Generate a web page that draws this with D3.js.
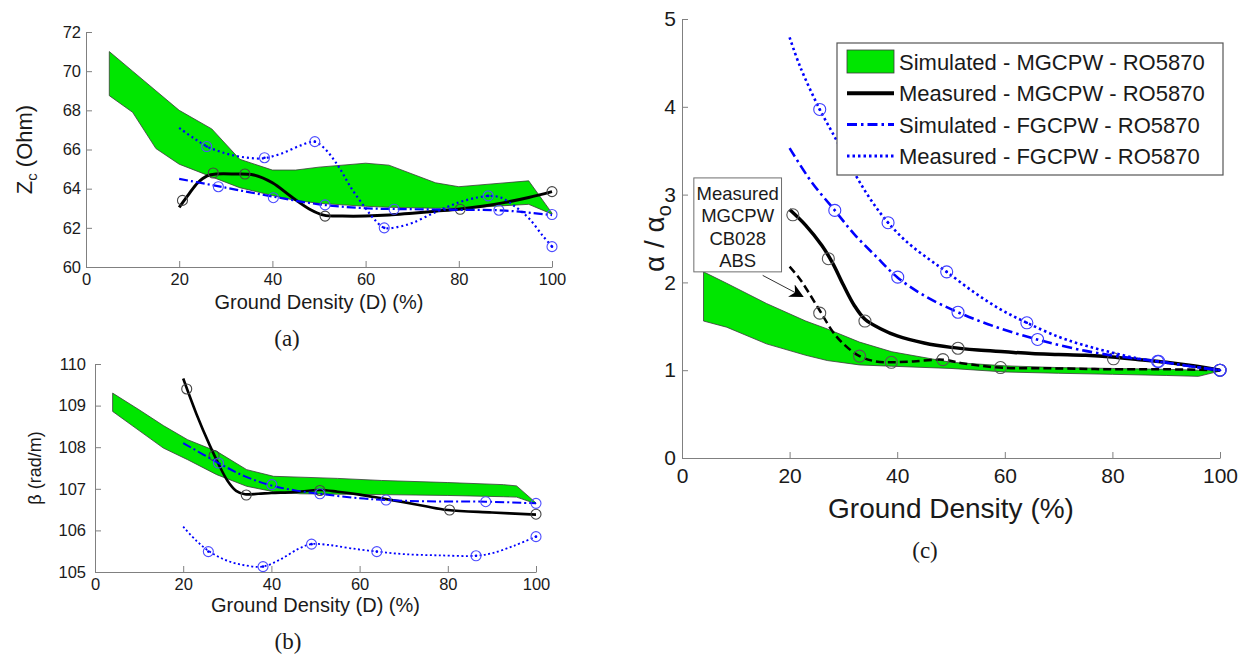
<!DOCTYPE html>
<html>
<head>
<meta charset="utf-8">
<script src="https://cdn.jsdelivr.net/npm/d3@7"></script>
<style>
body { margin: 0; background: #fff; }
text { font-family: "Liberation Sans", Arial, sans-serif; fill: #1a1a1a; }
.axis path, .axis line { stroke: #808080; }
.cap { font-family: "Liberation Serif", "DejaVu Serif", serif; }
</style>
</head>
<body>
<svg id="fig" width="1246" height="655"></svg>
<script>
// ---- data ----
var densityTicks = [0, 20, 40, 60, 80, 100];

// (a) characteristic impedance
var zcTicks = [60, 62, 64, 66, 68, 70, 72];
var zcBandX  = [5, 10, 15, 20, 27, 33, 40, 45, 50, 60, 65, 75, 80, 95, 100];
var zcBandHi = [71.0, 70.0, 69.0, 68.0, 67.05, 65.5, 64.95, 64.95, 65.1, 65.3, 65.2, 64.3, 64.1, 64.4, 62.75];
var zcBandLo = [68.75, 67.9, 66.05, 65.25, 64.6, 64.05, 63.65, 63.4, 63.25, 63.1, 63.05, 63.0, 63.0, 63.2, 62.7];
var zcMeasMgX = [20, 22, 24, 26, 28, 32, 36, 40, 44, 48, 51, 55, 60, 65, 70, 75, 80, 85, 90, 95, 100];
var zcMeasMgY = [63.05, 63.7, 64.3, 64.65, 64.75, 64.75, 64.7, 64.3, 63.6, 62.95, 62.65, 62.6, 62.6, 62.65, 62.75, 62.85, 62.95, 63.1, 63.3, 63.55, 63.85];
var zcMeasMgPtX = [20.7, 27.3, 34.1, 51.3, 80.3, 100];
var zcMeasMgPtY = [63.4, 64.8, 64.75, 62.6, 62.95, 63.85];
var zcSimFgX = [20, 30, 40, 50, 60, 70, 80, 90, 100];
var zcSimFgY = [64.5, 64.05, 63.6, 63.2, 63.0, 62.95, 62.92, 62.88, 62.65];
var zcSimFgPtX = [28.4, 40.2, 51.3, 66.1, 88.6, 100];
var zcSimFgPtY = [64.1, 63.54, 63.17, 62.95, 62.9, 62.68];
var zcMeasFgX = [20, 23, 26, 30, 34, 38, 42, 46, 49, 51, 54, 57, 60, 62, 64, 67, 70, 75, 80, 84, 86.5, 89, 92, 95, 98, 100];
var zcMeasFgY = [67.1, 66.6, 66.15, 65.8, 65.6, 65.55, 65.8, 66.2, 66.4, 66.1, 65.2, 64.0, 63.0, 62.4, 62.0, 62.05, 62.25, 62.8, 63.3, 63.55, 63.63, 63.55, 63.1, 62.5, 61.6, 61.05];
var zcMeasFgPtX = [25.9, 38.3, 49.1, 64, 86.3, 100];
var zcMeasFgPtY = [66.15, 65.58, 66.4, 62.0, 63.63, 61.04];

// (b) propagation constant
var betaTicks = [105, 106, 107, 108, 109, 110];
var betaBandX  = [4, 10, 15.5, 21, 27.6, 34.4, 40.5, 46.5, 55, 65, 80, 92.6, 95.6, 100];
var betaBandHi = [109.3, 108.9, 108.52, 108.18, 107.9, 107.46, 107.3, 107.28, 107.25, 107.2, 107.15, 107.1, 107.07, 106.66];
var betaBandLo = [108.86, 108.4, 107.98, 107.7, 107.34, 107.06, 106.93, 106.88, 106.87, 106.86, 106.84, 106.81, 106.8, 106.64];
var betaMeasMgX = [20, 23, 26, 28, 30, 32, 34, 37, 40, 45, 51, 55, 60, 65, 70, 75, 80, 90, 100];
var betaMeasMgY = [109.65, 108.8, 108.05, 107.6, 107.2, 106.95, 106.87, 106.88, 106.9, 106.92, 106.97, 106.93, 106.86, 106.77, 106.68, 106.58, 106.49, 106.43, 106.38];
var betaMeasMgPtX = [20.8, 27, 34.3, 51, 80.4, 100];
var betaMeasMgPtY = [109.4, 107.8, 106.85, 106.96, 106.49, 106.39];
var betaSimFgX = [20, 28, 34, 40, 46, 51, 60, 66, 75, 88.6, 100];
var betaSimFgY = [108.1, 107.62, 107.3, 107.08, 106.95, 106.88, 106.77, 106.73, 106.7, 106.69, 106.65];
var betaSimFgPtX = [28, 40.1, 51, 66, 88.6, 100];
var betaSimFgPtY = [107.62, 107.1, 106.88, 106.73, 106.69, 106.65];
var betaMeasFgX = [20, 23, 26, 30, 34, 38, 42, 46, 49, 53, 58, 64, 70, 78, 86.4, 90, 95, 100];
var betaMeasFgY = [106.09, 105.75, 105.49, 105.27, 105.16, 105.13, 105.3, 105.55, 105.67, 105.65, 105.57, 105.49, 105.43, 105.4, 105.39, 105.45, 105.63, 105.85];
var betaMeasFgPtX = [25.7, 38.1, 49.1, 63.9, 86.4, 100];
var betaMeasFgPtY = [105.49, 105.13, 105.67, 105.49, 105.39, 105.85];

// (c) normalised attenuation
var alphaTicks = [0, 1, 2, 3, 4, 5];
var alphaBandX  = [4, 8.3, 15.7, 23, 27, 33, 39, 50, 60, 70, 80, 90, 96, 100];
var alphaBandHi = [2.12, 1.99, 1.76, 1.56, 1.47, 1.32, 1.21, 1.09, 1.05, 1.03, 1.02, 1.01, 1.0, 1.0];
var alphaBandLo = [1.56, 1.49, 1.30, 1.17, 1.11, 1.06, 1.045, 1.02, 0.98, 0.965, 0.953, 0.94, 0.93, 0.99];
var alphaMeasMgX = [20, 23, 26, 28, 30, 32, 34, 37, 40, 45, 50, 55, 60, 65, 70, 75, 80, 85, 90, 95, 100];
var alphaMeasMgY = [2.83, 2.65, 2.42, 2.22, 1.97, 1.74, 1.58, 1.47, 1.39, 1.31, 1.26, 1.23, 1.21, 1.19, 1.18, 1.17, 1.15, 1.12, 1.09, 1.05, 1.0];
var alphaMeasMgPtX = [20.6, 27.2, 34, 51.3, 80.2, 100];
var alphaMeasMgPtY = [2.77, 2.27, 1.56, 1.25, 1.13, 1.0];
var alphaMeasCbX = [20, 22, 25.6, 28, 30, 33, 36, 38.9, 43, 48.5, 52, 59, 70, 80, 90, 100];
var alphaMeasCbY = [2.18, 2.03, 1.68, 1.44, 1.3, 1.16, 1.1, 1.09, 1.1, 1.12, 1.08, 1.03, 1.02, 1.01, 1.01, 1.0];
var alphaMeasCbPtX = [25.6, 33, 38.9, 48.5, 59.2, 100];
var alphaMeasCbPtY = [1.65, 1.16, 1.09, 1.12, 1.03, 1.0];
var alphaSimFgX = [20, 24, 28.4, 32, 36, 40, 45, 51.3, 58, 66, 75, 82, 88.6, 95, 100];
var alphaSimFgY = [3.53, 3.15, 2.82, 2.55, 2.3, 2.06, 1.85, 1.66, 1.5, 1.35, 1.22, 1.15, 1.1, 1.04, 1.0];
var alphaSimFgPtX = [28.4, 40.1, 51.3, 66.1, 88.6, 100];
var alphaSimFgPtY = [2.82, 2.06, 1.66, 1.35, 1.1, 1.0];
var alphaMeasFgX = [20, 22, 25.6, 28, 32, 35, 38.3, 42, 46, 49.2, 54, 59, 64.1, 70, 75, 80, 85, 88.4, 94, 100];
var alphaMeasFgY = [4.79, 4.45, 3.97, 3.7, 3.25, 2.95, 2.68, 2.45, 2.26, 2.12, 1.9, 1.7, 1.54, 1.38, 1.28, 1.2, 1.13, 1.1, 1.05, 1.0];
var alphaMeasFgPtX = [25.6, 38.3, 49.2, 64.1, 88.4, 100];
var alphaMeasFgPtY = [3.97, 2.68, 2.12, 1.54, 1.1, 1.0];

var legendLabels = ["Simulated - MGCPW - RO5870", "Measured - MGCPW - RO5870",
                    "Simulated - FGCPW - RO5870", "Measured - FGCPW - RO5870"];
var noteLines = ["Measured", "MGCPW", "CB028", "ABS"];

var GREEN = "#00e600", BLUE = "#0000ff";

var svg = d3.select("#fig");

var defs = svg.append("defs");
defs.append("marker")
  .attr("id", "arrowHead")
  .attr("viewBox", "0 0 10 10")
  .attr("refX", 9).attr("refY", 5)
  .attr("markerWidth", 14).attr("markerHeight", 14)
  .attr("markerUnits", "userSpaceOnUse")
  .attr("orient", "auto")
  .append("path")
  .attr("d", "M0,0 L10,5 L0,10 L3,5 z")
  .attr("fill", "#000");

function zip(xs, ys) { return xs.map(function(v, i) { return [v, ys[i]]; }); }

// builds one panel: axes + band + series
function makePanel(cfg) {
  var g = svg.append("g");
  var x = d3.scaleLinear().domain([0, 100]).range([cfg.left, cfg.right]);
  var y = d3.scaleLinear().domain(cfg.yDomain).range([cfg.bottom, cfg.top]);

  // green band
  var area = d3.area()
    .x(function(d) { return x(d[0]); })
    .y0(function(d) { return y(d[2]); })
    .y1(function(d) { return y(d[1]); });
  g.append("path")
    .datum(cfg.bandX.map(function(v, i) { return [v, cfg.bandHi[i], cfg.bandLo[i]]; }))
    .attr("d", area)
    .attr("fill", GREEN)
    .attr("stroke", "#3a3a3a")
    .attr("stroke-width", 0.8);

  var line = d3.line()
    .x(function(d) { return x(d[0]); })
    .y(function(d) { return y(d[1]); })
    .curve(d3.curveCatmullRom.alpha(0.5));

  cfg.series.forEach(function(s) {
    g.append("path")
      .datum(zip(s.x, s.y))
      .attr("d", line)
      .attr("fill", "none")
      .attr("stroke", s.color)
      .attr("stroke-width", s.width)
      .attr("stroke-dasharray", s.dash || null);
    var pts = zip(s.px, s.py);
    g.selectAll(null).data(pts).enter().append("circle")
      .attr("cx", function(d) { return x(d[0]); })
      .attr("cy", function(d) { return y(d[1]); })
      .attr("r", cfg.markerR)
      .attr("fill", "none")
      .attr("stroke", s.markerColor)
      .attr("stroke-width", 1.1);
    if (s.dot) {
      g.selectAll(null).data(pts).enter().append("circle")
        .attr("cx", function(d) { return x(d[0]); })
        .attr("cy", function(d) { return y(d[1]); })
        .attr("r", 1.3)
        .attr("fill", s.color);
    }
  });

  // axes (left + bottom only, ticks inward)
  var fmt = d3.format("d");
  var xa = g.append("g").attr("class", "axis")
    .attr("transform", "translate(0," + cfg.bottom + ")")
    .call(d3.axisBottom(x).tickValues(densityTicks).tickFormat(fmt)
      .tickSizeInner(-cfg.tick).tickSizeOuter(0).tickPadding(cfg.xPad));
  xa.selectAll("text").style("font-size", cfg.tickFont + "px").attr("fill", "#1a1a1a");

  var ya = g.append("g").attr("class", "axis")
    .attr("transform", "translate(" + cfg.left + ",0)")
    .call(d3.axisLeft(y).tickValues(cfg.yTicks).tickFormat(fmt)
      .tickSizeInner(-cfg.tick).tickSizeOuter(0).tickPadding(cfg.yPad));
  ya.selectAll("text").style("font-size", cfg.tickFont + "px").attr("fill", "#1a1a1a");

  // x label
  g.append("text")
    .attr("x", (cfg.left + cfg.right) / 2)
    .attr("y", cfg.xLabelY)
    .attr("text-anchor", "middle")
    .style("font-size", cfg.labelFont + "px")
    .text(cfg.xLabel);

  // panel caption
  g.append("text")
    .attr("class", "cap")
    .attr("x", cfg.capX)
    .attr("y", cfg.capY)
    .attr("text-anchor", "middle")
    .style("font-size", "23px")
    .text(cfg.caption);

  return { g: g, x: x, y: y };
}

// (a)
var pa = makePanel({
  left: 86, right: 552, top: 32, bottom: 267,
  yDomain: [60, 72], yTicks: zcTicks,
  bandX: zcBandX, bandHi: zcBandHi, bandLo: zcBandLo,
  markerR: 5, tick: 6, xPad: 6, yPad: 5, tickFont: 16.5, labelFont: 20,
  xLabel: "Ground Density (D) (%)", xLabelY: 309, caption: "(a)", capX: 287, capY: 346,
  series: [
    { x: zcMeasMgX, y: zcMeasMgY, px: zcMeasMgPtX, py: zcMeasMgPtY, color: "#000", markerColor: "#444", width: 3 },
    { x: zcSimFgX, y: zcSimFgY, px: zcSimFgPtX, py: zcSimFgPtY, color: BLUE, markerColor: "#4d4dff", width: 2.2, dash: "9,3,2,3" },
    { x: zcMeasFgX, y: zcMeasFgY, px: zcMeasFgPtX, py: zcMeasFgPtY, color: BLUE, markerColor: "#4d4dff", width: 2.2, dash: "2,3", dot: true }
  ]
});
pa.g.append("text")
  .attr("transform", "translate(32," + ((32 + 267) / 2) + ") rotate(-90)")
  .attr("text-anchor", "middle")
  .style("font-size", "22px")
  .call(function(t) {
    t.append("tspan").text("Z");
    t.append("tspan").attr("dy", 5).style("font-size", "15px").text("c");
    t.append("tspan").attr("dy", -5).text(" (Ohm)");
  });

// (b)
var pb = makePanel({
  left: 95, right: 536, top: 364, bottom: 572,
  yDomain: [105, 110], yTicks: betaTicks,
  bandX: betaBandX, bandHi: betaBandHi, bandLo: betaBandLo,
  markerR: 5, tick: 6, xPad: 6, yPad: 9, tickFont: 16.5, labelFont: 20,
  xLabel: "Ground Density (D) (%)", xLabelY: 612, caption: "(b)", capX: 288, capY: 649,
  series: [
    { x: betaMeasMgX, y: betaMeasMgY, px: betaMeasMgPtX, py: betaMeasMgPtY, color: "#000", markerColor: "#444", width: 2.6 },
    { x: betaSimFgX, y: betaSimFgY, px: betaSimFgPtX, py: betaSimFgPtY, color: BLUE, markerColor: "#4d4dff", width: 2, dash: "9,3,2,3" },
    { x: betaMeasFgX, y: betaMeasFgY, px: betaMeasFgPtX, py: betaMeasFgPtY, color: BLUE, markerColor: "#4d4dff", width: 1.8, dash: "2,2.5", dot: true }
  ]
});
pb.g.append("text")
  .attr("transform", "translate(41," + ((364 + 572) / 2) + ") rotate(-90)")
  .attr("text-anchor", "middle")
  .style("font-size", "18px")
  .text("\u03b2 (rad/m)");

// (c)
var pc = makePanel({
  left: 682, right: 1220, top: 19, bottom: 458,
  yDomain: [0, 5], yTicks: alphaTicks,
  bandX: alphaBandX, bandHi: alphaBandHi, bandLo: alphaBandLo,
  markerR: 6, tick: 6, xPad: 10, yPad: 6, tickFont: 21, labelFont: 28,
  xLabel: "Ground Density (%)", xLabelY: 518, caption: "(c)", capX: 925, capY: 558,
  series: [
    { x: alphaMeasCbX, y: alphaMeasCbY, px: alphaMeasCbPtX, py: alphaMeasCbPtY, color: "#000", markerColor: "#555", width: 2.5, dash: "8,4" },
    { x: alphaMeasMgX, y: alphaMeasMgY, px: alphaMeasMgPtX, py: alphaMeasMgPtY, color: "#000", markerColor: "#555", width: 3.5 },
    { x: alphaSimFgX, y: alphaSimFgY, px: alphaSimFgPtX, py: alphaSimFgPtY, color: BLUE, markerColor: "#3d3dff", width: 2.6, dash: "10,4,2.5,4" },
    { x: alphaMeasFgX, y: alphaMeasFgY, px: alphaMeasFgPtX, py: alphaMeasFgPtY, color: BLUE, markerColor: "#3d3dff", width: 2.6, dash: "2.5,3", dot: true }
  ]
});
pc.g.append("text")
  .attr("transform", "translate(664," + ((19 + 458) / 2) + ") rotate(-90)")
  .attr("text-anchor", "middle")
  .style("font-size", "28px")
  .call(function(t) {
    t.append("tspan").text("\u03b1 / \u03b1");
    t.append("tspan").attr("dy", 7).style("font-size", "20px").text("o");
  });

// annotation box with arrow (data units of panel c)
var nx0 = pc.x(2.2), nx1 = pc.x(18.5), ny0 = pc.y(3.19), ny1 = pc.y(2.12);
pc.g.append("rect")
  .attr("x", nx0).attr("y", ny0)
  .attr("width", nx1 - nx0).attr("height", ny1 - ny0)
  .attr("fill", "#fff").attr("stroke", "#6e6e6e").attr("stroke-width", 1);
pc.g.selectAll(null).data(noteLines).enter().append("text")
  .attr("x", (nx0 + nx1) / 2)
  .attr("y", function(d, i) { return ny0 + 22 + i * 22.5; })
  .attr("text-anchor", "middle")
  .style("font-size", "18.5px")
  .text(function(d) { return d; });
pc.g.append("line")
  .attr("x1", pc.x(15)).attr("y1", pc.y(2.08))
  .attr("x2", pc.x(22.4)).attr("y2", pc.y(1.84))
  .attr("stroke", "#333").attr("stroke-width", 1)
  .attr("marker-end", "url(#arrowHead)");

// legend
var lg = pc.g.append("g").attr("transform", "translate(837,43)");
lg.append("rect")
  .attr("width", 386).attr("height", 132)
  .attr("fill", "#fff").attr("stroke", "#555").attr("stroke-width", 1.2);
var legendStyles = [
  { type: "band" },
  { color: "#000", width: 4 },
  { color: BLUE, width: 3, dash: "10,4,2.5,4" },
  { color: BLUE, width: 3, dash: "2.5,3" }
];
legendLabels.forEach(function(lab, i) {
  var cy = 19 + i * 31.3;
  var st = legendStyles[i];
  if (st.type === "band") {
    lg.append("rect").attr("x", 10).attr("y", cy - 12).attr("width", 47).attr("height", 23)
      .attr("fill", GREEN).attr("stroke", "#3a3a3a").attr("stroke-width", 0.8);
  } else {
    lg.append("line").attr("x1", 10).attr("x2", 57).attr("y1", cy).attr("y2", cy)
      .attr("stroke", st.color).attr("stroke-width", st.width)
      .attr("stroke-dasharray", st.dash || null);
  }
  lg.append("text").attr("x", 62).attr("y", cy + 8)
    .style("font-size", "22px").text(lab);
});
</script>
</body>
</html>
